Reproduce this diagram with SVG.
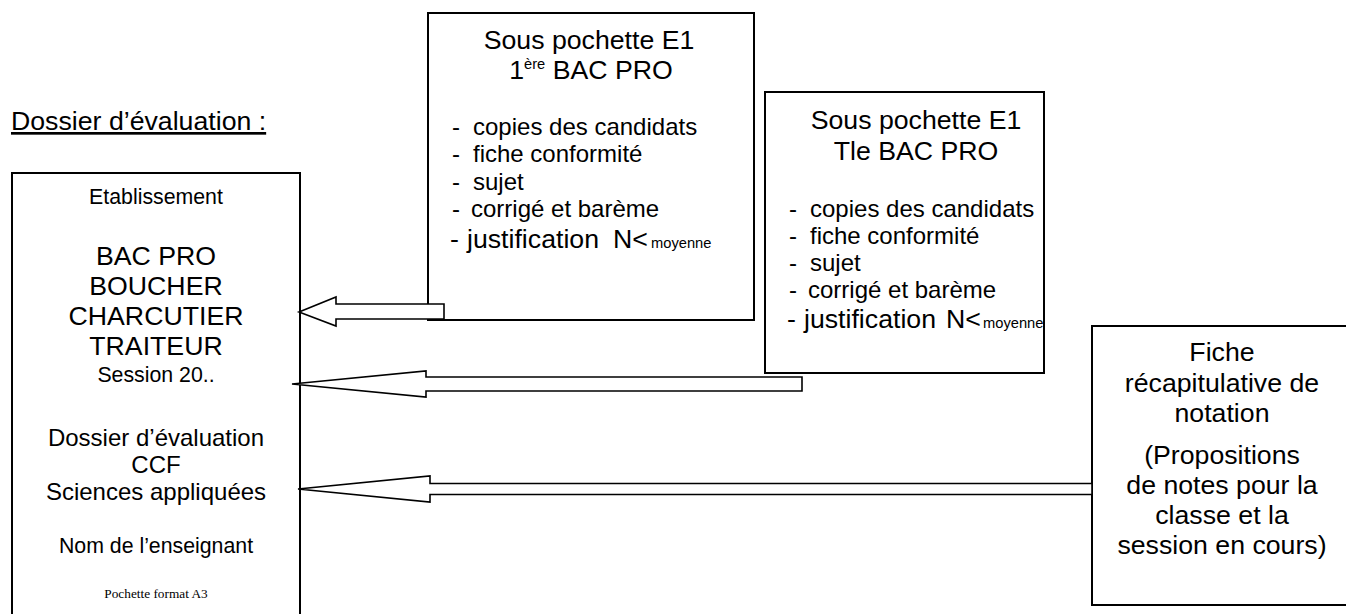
<svg xmlns="http://www.w3.org/2000/svg" width="1346" height="614" viewBox="0 0 1346 614">
<style>
.box{fill:#fff;stroke:#000;stroke-width:2}
.arr{fill:#fff;stroke:#000;stroke-width:1.6;stroke-linejoin:miter}
text{font-family:"Liberation Sans",Arial,sans-serif;fill:#000}
.c{text-anchor:middle}
.t{font-size:26.7px}
.l{font-size:24px}
.s{font-size:21.3px}
.m{font-size:14.7px}
.serif{font-family:"Liberation Serif","Times New Roman",serif;font-size:13.3px}
</style>
<rect width="1346" height="614" fill="#fff"/>
<g id="label">
<text x="11" y="130" class="t" text-decoration="underline">Dossier d’évaluation :</text>
</g>
<g id="dossier">
<rect class="box" x="12" y="173" width="288" height="450"/>
<text class="c s" x="156" y="204">Etablissement</text>
<text class="c t" x="156" y="265">BAC PRO</text>
<text class="c t" x="156" y="295">BOUCHER</text>
<text class="c t" x="156" y="325">CHARCUTIER</text>
<text class="c t" x="156" y="355">TRAITEUR</text>
<text class="c s" x="156" y="382">Session 20..</text>
<text class="c l" x="156" y="446">Dossier d’évaluation</text>
<text class="c l" x="156" y="473">CCF</text>
<text class="c l" x="156" y="500">Sciences appliquées</text>
<text class="c s" x="156" y="553">Nom de l’enseignant</text>
<text class="c serif" x="156" y="598">Pochette format A3</text>
</g>
<g id="premiere">
<rect class="box" x="428" y="13" width="326" height="307"/>
<text class="c t" x="589" y="49">Sous pochette E1</text>
<text class="c t" x="591" y="79">1<tspan class="m" dy="-10">ère</tspan><tspan dy="10"> BAC PRO</tspan></text>
<text class="l" x="452" y="135">-</text><text class="l" x="473" y="135">copies des candidats</text>
<text class="l" x="452" y="162">-</text><text class="l" x="473" y="162">fiche conformité</text>
<text class="l" x="452" y="190">-</text><text class="l" x="473" y="190">sujet</text>
<text class="l" x="452" y="217">-</text><text class="l" x="471" y="217">corrigé et barème</text>
<text class="t" x="450" y="248">-</text><text class="t" x="467" y="248">justification</text>
<text class="t" x="613" y="248">N&lt;</text><text class="m" x="651" y="248">moyenne</text>
</g>
<g id="terminale">
<rect class="box" x="765" y="92" width="279" height="281"/>
<text class="c t" x="916" y="129">Sous pochette E1</text>
<text class="c t" x="916" y="160">Tle BAC PRO</text>
<text class="l" x="789" y="217">-</text><text class="l" x="810" y="217">copies des candidats</text>
<text class="l" x="789" y="244">-</text><text class="l" x="810" y="244">fiche conformité</text>
<text class="l" x="789" y="271">-</text><text class="l" x="810" y="271">sujet</text>
<text class="l" x="789" y="298">-</text><text class="l" x="808" y="298">corrigé et barème</text>
<text class="t" x="787" y="328">-</text><text class="t" x="804" y="328">justification</text>
<text class="t" x="946" y="328">N&lt;</text><text class="m" x="983" y="328">moyenne</text>
</g>
<g id="fiche">
<rect class="box" x="1092" y="326" width="262" height="279"/>
<text class="c t" x="1222" y="361">Fiche</text>
<text class="c t" x="1222" y="392">récapitulative de</text>
<text class="c t" x="1222" y="422">notation</text>
<text class="c t" x="1222" y="464">(Propositions</text>
<text class="c t" x="1222" y="494">de notes pour la</text>
<text class="c t" x="1222" y="524">classe et la</text>
<text class="c t" x="1222" y="554">session en cours)</text>
</g>
<g id="connectors">
<polygon class="arr" points="299,312 336,297 336,304 444,304 444,319 336,319 336,326"/>
<polygon class="arr" points="292,384 426,371 426,377 802,377 802,391 426,391 426,397"/>
<polygon class="arr" points="298,489 430,476 430,483.5 1092,483.5 1092,494.5 430,494.5 430,502"/>
</g>
</svg>
